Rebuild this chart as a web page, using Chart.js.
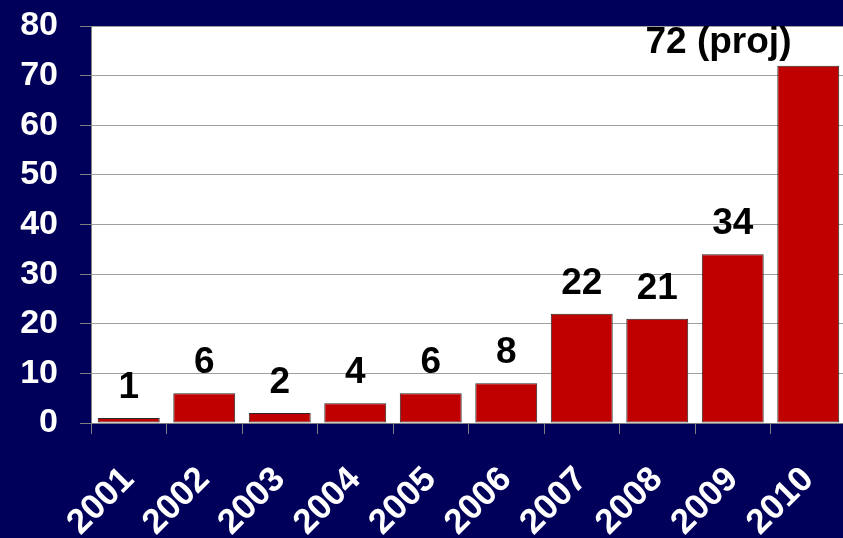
<!DOCTYPE html>
<html>
<head>
<meta charset="utf-8">
<script src="https://cdn.jsdelivr.net/npm/chart.js@4/dist/chart.umd.min.js"></script>
<style>
  html, body { margin: 0; padding: 0; background: #00005a; overflow: hidden; }
  #wrap { width: 846px; height: 538px; position: relative; }
</style>
</head>
<body>
<div id="wrap"><canvas id="chart"></canvas></div>
<script>
// Values
const years = ['2001', '2002', '2003', '2004', '2005', '2006', '2007', '2008', '2009', '2010'];
const counts = [1, 6, 2, 4, 6, 8, 22, 21, 34, 72];
const barLabels = ['1', '6', '2', '4', '6', '8', '22', '21', '34', '72 (proj)'];
const yTicks = [0, 10, 20, 30, 40, 50, 60, 70, 80];

const FONT = '"Liberation Sans", Arial, sans-serif';

// white plot area behind the bars
const plotBackground = {
  id: 'plotBackground',
  beforeDraw(chart) {
    const { ctx, chartArea: a } = chart;
    ctx.save();
    ctx.fillStyle = '#ffffff';
    ctx.fillRect(a.left, a.top, a.right - a.left, a.bottom - a.top);
    ctx.restore();
  }
};

// numbers above each bar
const valueLabels = {
  id: 'valueLabels',
  afterDatasetsDraw(chart) {
    const { ctx, chartArea: a } = chart;
    const meta = chart.getDatasetMeta(0);
    ctx.save();
    ctx.beginPath();
    ctx.rect(a.left, a.top, a.right - a.left, a.bottom - a.top);
    ctx.clip();
    ctx.fillStyle = '#000000';
    ctx.font = 'bold 37px ' + FONT;
    ctx.textAlign = 'center';
    ctx.textBaseline = 'alphabetic';
    meta.data.forEach((bar, i) => {
      const last = i === meta.data.length - 1;
      // the last label would run off the right edge, so it sits further left
      const x = last ? bar.x - bar.width * 1.45 : bar.x;
      const y = last ? bar.y - 13 : bar.y - 20;
      ctx.fillText(barLabels[i], x, y);
    });
    ctx.restore();
  }
};

new Chart(document.getElementById('chart'), {
  type: 'bar',
  data: {
    labels: years,
    datasets: [{
      data: counts,
      backgroundColor: '#c00000',
      borderColor: '#2a2a2a',
      borderWidth: 1,
      borderSkipped: false,
      barPercentage: 0.82,
      categoryPercentage: 1.0,
    }],
  },
  options: {
    responsive: true,
    maintainAspectRatio: false,
    animation: false,
    layout: { padding: { top: 26, left: 0, right: 0, bottom: 0 } },
    plugins: {
      legend: { display: false },
      tooltip: { enabled: false },
    },
    scales: {
      x: {
        offset: true,
        afterFit: scale => {
          scale.height = 115;
          scale.paddingLeft = 0;
          scale.paddingRight = 0;
        },
        grid: {
          display: true,
          drawOnChartArea: false,
          offset: true,
          tickLength: 11,
          tickColor: '#808080',
          color: '#808080',
        },
        border: { display: true, color: '#808080', width: 1 },
        ticks: {
          autoSkip: false,
          minRotation: 45,
          maxRotation: 45,
          padding: 25,
          color: '#ffffff',
          font: { family: FONT, size: 35, weight: 'bold' },
        },
      },
      y: {
        min: 0,
        max: 80,
        afterFit: scale => {
          scale.width = 91;
          scale.paddingTop = 0;
          scale.paddingBottom = 0;
        },
        afterBuildTicks: scale => { scale.ticks = yTicks.map(v => ({ value: v })); },
        grid: {
          color: '#a0a0a0',
          tickColor: '#808080',
          tickLength: 11,
          lineWidth: 1,
        },
        border: { display: true, color: '#808080', width: 1 },
        ticks: {
          padding: 22,
          color: '#ffffff',
          font: { family: FONT, size: 34, weight: 'bold' },
        },
      },
    },
  },
  plugins: [plotBackground, valueLabels],
});
</script>
</body>
</html>
